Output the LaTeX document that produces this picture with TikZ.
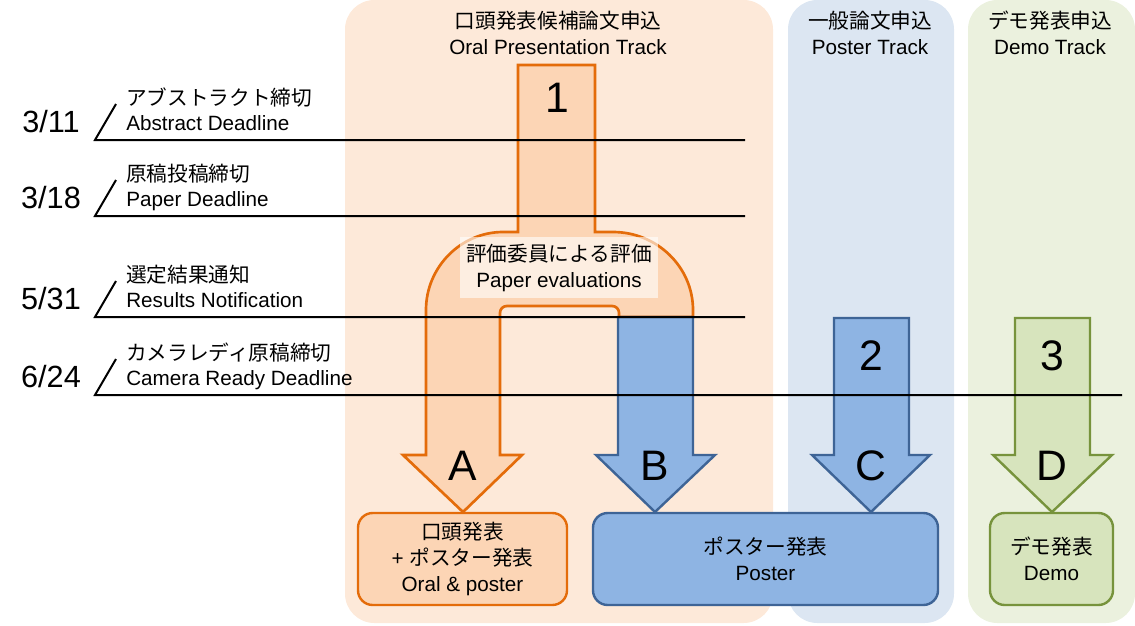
\documentclass[tikz,border=0pt]{standalone}
\usepackage{fontspec}
\setmainfont{Liberation Sans}
\newfontfamily\jp{Noto Sans CJK JP}
\usepackage{xcolor}
\usepackage{tikz}
\usetikzlibrary{positioning}

\definecolor{oralbg}{HTML}{FDE9D9}
\definecolor{posterbg}{HTML}{DCE6F2}
\definecolor{demobg}{HTML}{EBF1DE}
\definecolor{oralfill}{HTML}{FCD5B5}
\definecolor{oralline}{HTML}{E46C0A}
\definecolor{posterfill}{HTML}{8EB4E3}
\definecolor{posterline}{HTML}{3E6496}
\definecolor{demofill}{HTML}{D7E4BD}
\definecolor{demoline}{HTML}{77933C}

\tikzset{
  lbl/.style={font=\fontsize{15.5}{19.5}\selectfont, inner sep=0pt},
  bignum/.style={font=\fontsize{32}{32}\selectfont, inner sep=0pt, anchor=base},
  datelbl/.style={font=\fontsize{23}{23}\selectfont, inner sep=0pt, anchor=base},
  deadline/.style={black, line width=1.5pt},
  oralarrow/.style={fill=oralfill, draw=oralline, line width=2pt},
  posterarrow/.style={fill=posterfill, draw=posterline, line width=1.8pt},
  demoarrow/.style={fill=demofill, draw=demoline, line width=1.8pt},
  resbox/.style={lbl, rounded corners=11pt, line width=1.8pt, align=center,
    minimum height=69pt}
}

\begin{document}
\begin{tikzpicture}[x=0.75pt,y=-0.75pt]
\useasboundingbox (0,0) rectangle (1135,625);

% track backgrounds
\fill[oralbg, rounded corners=22pt] (345,0) rectangle (773,623);
\fill[posterbg, rounded corners=22pt] (788,0) rectangle (954,623);
\fill[demobg, rounded corners=22pt] (968,0) rectangle (1135,623);

\node[lbl, align=center] (oraltitle) at (558,33) {{\jp 口頭発表候補論文申込}\\Oral Presentation Track};
\node[lbl, align=center] (postertitle) at (870,33) {{\jp 一般論文申込}\\Poster Track};
\node[lbl, align=center] (demotitle) at (1050,33) {{\jp デモ発表申込}\\Demo Track};

% results
\node[resbox, draw=oralline, fill=oralfill, minimum width=156.75pt] (boxA) at (462.5,559)
  {{\jp 口頭発表}\\+ {\jp ポスター発表}\\Oral \& poster};
\node[resbox, draw=posterline, fill=posterfill, minimum width=258.75pt] (boxB) at (765.5,559)
  {{\jp ポスター発表}\\Poster};
\node[resbox, draw=demoline, fill=demofill, minimum width=92.25pt] (boxD) at (1051.5,559)
  {{\jp デモ発表}\\Demo};

\coordinate (tipA) at (463,512);
\coordinate (tipB) at (655,512);
\coordinate (tipC) at (871,512);
\coordinate (tipD) at (1052,512);

% track 1 splits into A and B
\filldraw[oralarrow] (518,65) -- (595,65) -- (595,232) -- (613,232)
  .. controls (657,232) and (693,267) .. (693,310) -- (693,317) -- (619,317) -- (619,313)
  .. controls (619,309) and (616,306) .. (612,306) -- (507,306)
  .. controls (503,306) and (500,309) .. (500,313) -- (500,455) -- (522,455)
  -- (tipA) -- (403,455) -- (426,455) -- (426,310)
  .. controls (426,267) and (461,232) .. (503,232) -- (518,232) -- cycle;
\filldraw[posterarrow] (tipB) -- (596,455) -- (618,455) -- (618,317) -- (693,317)
  -- (693,455) -- (715,455) -- cycle;
\filldraw[posterarrow] (tipC) -- (812,455) -- (834,455) -- (834,318) -- (909,318)
  -- (909,455) -- (930,455) -- cycle;
\filldraw[demoarrow] (tipD) -- (993,455) -- (1015,455) -- (1015,318) -- (1090,318)
  -- (1090,455) -- (1112,455) -- cycle;

% deadlines
\draw[deadline] (116,104) -- (95,140) -- (745,140);
\draw[deadline] (116,180) -- (95,216) -- (745,216);
\draw[deadline] (116,281) -- (95,317) -- (745,317);
\draw[deadline] (116,359) -- (95,395) -- (1122,395);

\node[datelbl] (d311) at (51,132) {3/11};
\node[datelbl] (d318) at (51,208) {3/18};
\node[datelbl] (d531) at (51,309) {5/31};
\node[datelbl] (d624) at (51,387) {6/24};

\node[lbl, anchor=base west] (d311ja) at (126,105) {\jp アブストラクト締切};
\node[lbl, anchor=base west] (d311en) at (126,130.5) {Abstract Deadline};
\node[lbl, anchor=base west] (d318ja) at (126,181) {\jp 原稿投稿締切};
\node[lbl, anchor=base west] (d318en) at (126,206.5) {Paper Deadline};
\node[lbl, anchor=base west] (d531ja) at (126,282) {\jp 選定結果通知};
\node[lbl, anchor=base west] (d531en) at (126,307.5) {Results Notification};
\node[lbl, anchor=base west] (d624ja) at (126,360) {\jp カメラレディ原稿締切};
\node[lbl, anchor=base west] (d624en) at (126,385.5) {Camera Ready Deadline};

\node[lbl, align=center, fill=white, fill opacity=0.6, text opacity=1,
  minimum width=148.5pt, minimum height=45.75pt] (evalbox) at (559,267.5)
  {{\jp 評価委員による評価}\\Paper evaluations};

\node[bignum] (n1) at (557,112) {1};
\node[bignum] (n2) at (871,370) {2};
\node[bignum] (n3) at (1052,370) {3};
\node[bignum] (lA) at (463,480) {A};
\node[bignum] (lB) at (655,480) {B};
\node[bignum] (lC) at (871,480) {C};
\node[bignum] (lD) at (1052,480) {D};
\end{tikzpicture}
\end{document}
